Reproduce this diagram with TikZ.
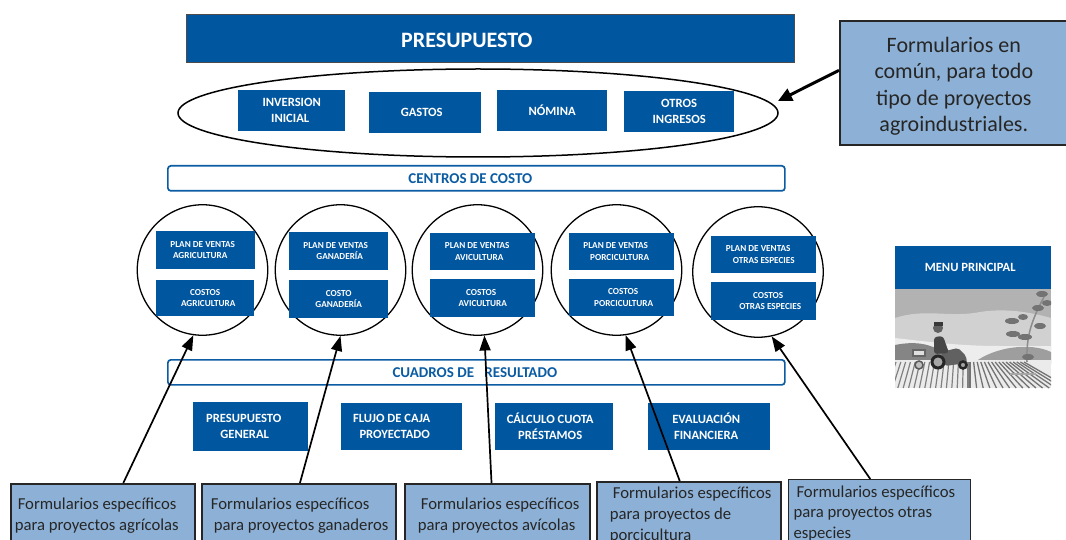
\documentclass[tikz,border=0pt]{standalone}
\usepackage{fontspec}
\setmainfont{Carlito}
\usepackage{xcolor}
\definecolor{darkblue}{HTML}{00569F}
\definecolor{paleblue}{HTML}{8DB1D6}
\definecolor{inkblue}{HTML}{0B5CA3}
\usetikzlibrary{arrows.meta,shapes.geometric}
\newcommand{\fsize}[2]{\fontsize{#1}{#2}\selectfont}
\newcommand{\nudge}[1]{\hspace*{#1pt}}

\tikzset{
  bluebox/.style={fill=darkblue, text=white, font=\bfseries\fsize{12.6}{16}, align=center, anchor=north west, inner sep=0pt},
  tinybox/.style={bluebox, font=\bfseries\fsize{9.2}{11.5}},
  notebox/.style={draw=black!85, line width=1.6pt, fill=paleblue, font=\fsize{16.7}{20.8}, text=black!85, align=flush left, anchor=north west, inner sep=0pt},
  titlebar/.style={draw=inkblue, line width=1.7pt, rounded corners=3pt, fill=white, text=inkblue, font=\bfseries\fsize{15}{17}, anchor=north west, inner sep=0pt},
  costring/.style={circle, draw=black, line width=1.3pt, minimum size=130.5pt, inner sep=0pt},
  pointer/.style={line width=1.7pt, -{Triangle[length=15pt,width=11pt]}}
}

\begin{document}
\begin{tikzpicture}[x=1pt, y=-1pt]
  \useasboundingbox (0,0) rectangle (1066,540);
  \clip (0,0) rectangle (1066,540);
  \fill[white] (0,0) rectangle (1066,540);

  % Budget header and common forms
  \node[bluebox, draw=black!70, line width=0.8pt, minimum width=608, minimum height=48, font=\bfseries\fsize{22}{24}] (budget) at (186,14) {\nudge{-47}\raisebox{-9pt}[0pt][0pt]{PRESUPUESTO}};
  \node[draw=black, line width=1.5pt, ellipse, minimum width=600, minimum height=88, inner sep=0pt] (common) at (478,113) {};
  \node[bluebox, minimum width=107, minimum height=41] (invest) at (238,90) {INVERSION\\\nudge{-3}INICIAL};
  \node[bluebox, minimum width=112, minimum height=41] (costs) at (369,92) {\nudge{-7}GASTOS};
  \node[bluebox, minimum width=110, minimum height=41] (payroll) at (497,90) {NÓMINA};
  \node[bluebox, minimum width=110, minimum height=41] (other) at (624,91) {OTROS\\INGRESOS};
  \node[notebox, align=center, minimum width=236, minimum height=124] (commonnote) at (839,20) {\nudge{-8}\raisebox{-9pt}[0pt][0pt]{\fsize{22}{26.4}\selectfont\begin{tabular}{@{}c@{}}Formularios en\\común, para todo\\tipo de proyectos\\agroindustriales.\end{tabular}}};
  \coordinate (commontip) at (778,101);
  \draw[pointer, line width=3pt, -{Triangle[length=14pt,width=13pt]}] (commonnote.174.7) -- (commontip);

  % Cost centres
  \node[titlebar, minimum width=617, minimum height=25] (centres) at (167,165) {\nudge{-12}CENTROS DE COSTO};
  \node[costring] (ringagri) at (202.5,270) {};
  \node[costring] (ringgan) at (340.5,270) {};
  \node[costring] (ringavi) at (477.5,270) {};
  \node[costring] (ringpor) at (616.5,270) {};
  \node[costring] (ringoth) at (758,272) {};

  \node[tinybox, minimum width=99, minimum height=38] (planagri) at (156,231) {\nudge{-6}PLAN DE VENTAS\\\nudge{-11}AGRICULTURA};
  \node[tinybox, minimum width=98, minimum height=36] (costagri) at (156,280) {COSTOS\\\nudge{6}AGRICULTURA};
  \node[tinybox, minimum width=99, minimum height=38] (plangan) at (289,232) {\nudge{-6}PLAN DE VENTAS\\\nudge{2}GANADERÍA};
  \node[tinybox, minimum width=99, minimum height=38] (costgan) at (289,280) {COSTO\\GANADERÍA};
  \node[tinybox, minimum width=105, minimum height=37] (planavi) at (430,233) {\nudge{-11}PLAN DE VENTAS\\\nudge{-7}AVICULTURA};
  \node[tinybox, minimum width=105, minimum height=38] (costavi) at (430,279) {\nudge{-3}COSTOS\\AVICULTURA};
  \node[tinybox, minimum width=105, minimum height=37] (planpor) at (569,233) {\nudge{-12}PLAN DE VENTAS\\\nudge{-4}PORCICULTURA};
  \node[tinybox, minimum width=105, minimum height=37] (costpor) at (569,279) {\nudge{3}COSTOS\\\nudge{4}PORCICULTURA};
  \node[tinybox, minimum width=105, minimum height=37] (planoth) at (711,236) {\nudge{-11}PLAN DE VENTAS\\OTRAS ESPECIES};
  \node[tinybox, minimum width=105, minimum height=38] (costoth) at (711,282) {\nudge{9}COSTOS\\\nudge{13}OTRAS ESPECIES};

  % Result tables
  \node[titlebar, minimum width=617, minimum height=25] (results) at (167,359) {\nudge{-3}CUADROS DE\hspace{7pt} RESULTADO};
  \node[bluebox, minimum width=115, minimum height=49] (general) at (193,402) {\nudge{-14}PRESUPUESTO\\\nudge{-12}GENERAL};
  \node[bluebox, minimum width=121, minimum height=47] (cashflow) at (341,403) {\nudge{-20}FLUJO DE CAJA\\\nudge{-14}PROYECTADO};
  \node[bluebox, minimum width=118, minimum height=47] (loan) at (495,403) {\nudge{-8}CÁLCULO CUOTA\\\nudge{-8}PRÉSTAMOS};
  \node[bluebox, minimum width=122, minimum height=47] (evaluation) at (648,403) {\nudge{-6}EVALUACIÓN\\\nudge{-6}FINANCIERA};

  % Specific forms along the bottom
  \node[notebox, minimum width=184, text width=184pt, minimum height=64] (formagri) at (10,483) {\nudge{7}Formularios específicos\\\nudge{4}para proyectos agrícolas};
  \node[notebox, minimum width=194, text width=194pt, minimum height=64] (formgan) at (201,483) {\nudge{9}Formularios específicos\\\nudge{12}para proyectos ganaderos};
  \node[notebox, minimum width=185, text width=185pt, minimum height=64] (formavi) at (404,483) {\nudge{16}Formularios específicos\\\nudge{13}para proyectos avícolas};
  \node[notebox, minimum width=184, text width=184pt, minimum height=66] (formpor) at (596,481) {\nudge{16}Formularios específicos\\\nudge{13}para proyectos de\\\nudge{13}porcicultura};
  \node[notebox, minimum width=182, text width=182pt, minimum height=68, line width=1pt] (formoth) at (788,479) {\nudge{8}Formularios específicos\\\nudge{5}para proyectos otras\\\nudge{5}especies};

  \draw[pointer] (formagri.58) -- (ringagri.-98);
  \draw[pointer] (formgan.88) -- (ringgan.-90);
  \draw[pointer] (formavi.100) -- (ringavi.-84);
  \draw[pointer] (formpor.105) -- (ringpor.-82);
  \draw[pointer] (formoth.105) -- (ringoth.-78);

  % Main menu tile with the farm scene
  \node[bluebox, minimum width=156, minimum height=43] (menu) at (895,246) {\nudge{-6}MENU PRINCIPAL};
  \begin{scope}
    \clip (895,289) rectangle (1051,388);
    \fill[black!30] (895,289) rectangle (1051,388);
    \fill[black!18] (895,318) .. controls (925,308) and (950,318) .. (980,312) .. controls (1005,308) and (1030,312) .. (1051,318) -- (1051,350) -- (895,342) -- cycle;
    \fill[black!7] (895,338) .. controls (930,342) and (960,346) .. (1000,346) -- (1051,346) -- (1051,362) -- (895,362) -- cycle;
    \fill[black!48] (895,345) .. controls (915,341) and (935,342) .. (955,362) -- (895,362) -- cycle;
    \fill[black!38] (975,362) .. controls (995,347) and (1030,342) .. (1051,352) -- (1051,364) -- cycle;
    % furrows
    \fill[black!8] (895,360) rectangle (1051,388);
    \foreach \xx in {0,6,...,90} {
      \draw[black!55, line width=1.3pt] (970+\xx*0.6,362) -- (970+\xx*1.1,388);
      \draw[black!50, line width=1.2pt] (968-\xx*0.8,362) -- (968-\xx*0.9,388);
    }
    \draw[black!35, line width=2pt] (1010,374) -- (1036,374);
    % plant
    \draw[black!45, line width=1.5pt] (1027,362) .. controls (1026,335) and (1032,320) .. (1044,297);
    \foreach \xx/\yy/\rr in {1012/321/7,1040/326/6,1013/334/7,1025/337/7,1038/308/6,1042/294/6,1047/303/5,1023/317/5,1028/357/6}
      \fill[black!55] (\xx,\yy) ellipse ({\rr pt} and 3pt);
    % tractor and driver
    \fill[black!62, rounded corners=2pt] (941,352) -- (958,348) -- (966,356) -- (967,363) -- (945,366) -- cycle;
    \fill[black!72, rounded corners=3pt] (934,337) -- (943,336) -- (949,353) -- (934,354) -- cycle;
    \fill[black!62] (938,328) circle (5pt);
    \fill[black!78] (934,322) rectangle (943,326);
    \draw[black!85, line width=3pt, fill=black!35] (938,362) circle (6pt);
    \draw[black!85, line width=2.5pt, fill=black!35] (963,365) circle (3.5pt);
    \draw[black!65, line width=1.5pt, fill=black!25] (919,365) circle (4pt);
    \draw[black!60, line width=1.2pt, fill=black!12] (913,350) rectangle (925,356);
  \end{scope}
\end{tikzpicture}
\end{document}
